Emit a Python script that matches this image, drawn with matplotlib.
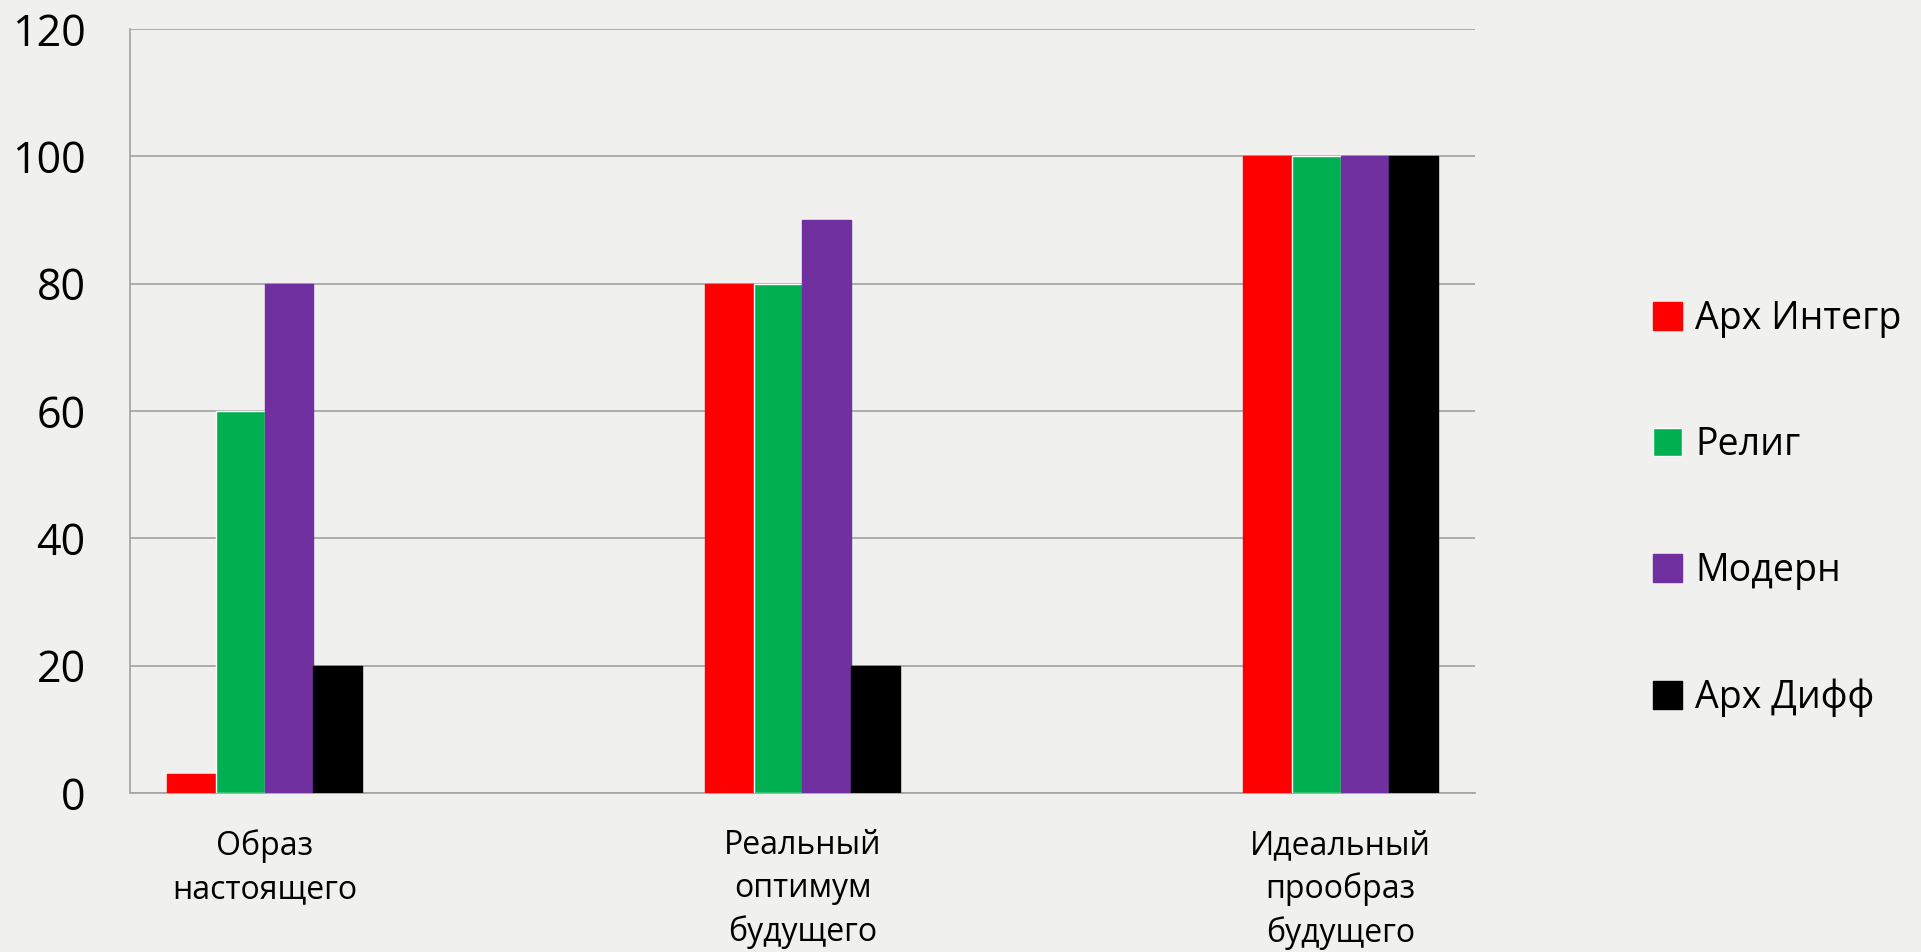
import numpy as np
import matplotlib.pyplot as plt

plt.rcParams['font.family'] = ['Open Sans', 'DejaVu Sans']

# categories and series
categories = ['Образ\nнастоящего', 'Реальный\nоптимум\nбудущего', 'Идеальный\nпрообраз\nбудущего']
series_names = ['Арх Интегр', 'Религ', 'Модерн', 'Арх Дифф']
arh_integr = [3, 80, 100]
relig = [60, 80, 100]
modern = [80, 90, 100]
arh_diff = [20, 20, 100]
colors = ['#FF0000', '#00B050', '#7030A0', '#000000']
yticks = [0, 20, 40, 60, 80, 100, 120]

bg = '#f0f0ee'
fig = plt.figure(figsize=(19.21, 9.52), dpi=100, facecolor=bg)
ax = fig.add_axes([130 / 1921, (952 - 793) / 952, 1345 / 1921, 764 / 952])
ax.set_facecolor(bg)

x = np.arange(len(categories))
w = 0.0906
values = [arh_integr, relig, modern, arh_diff]
for i, (vals, name, c) in enumerate(zip(values, series_names, colors)):
    ec = 'white' if c == '#00B050' else c
    ax.bar(x + (i - 1.5) * w, vals, width=w, color=c, edgecolor=ec,
           linewidth=1, label=name, zorder=3)

ax.set_xlim(-0.25, 2.25)
ax.set_ylim(0, 120)
ax.set_yticks(yticks)
ax.yaxis.grid(True, color='#a6a6a6', linewidth=1.3, zorder=0)
ax.set_xticks(x)
ax.set_xticklabels(categories, fontsize=23, linespacing=1.4, va='top')
ax.tick_params(axis='x', length=0, pad=26)
ax.tick_params(axis='y', length=0, pad=32, labelsize=31)

for s in ['top', 'right']:
    ax.spines[s].set_visible(False)
for s in ['left', 'bottom']:
    ax.spines[s].set_color('#a6a6a6')
    ax.spines[s].set_linewidth(1.3)

leg = fig.legend(loc='center left', bbox_to_anchor=(1619 / 1921, 0.466),
                 frameon=False, fontsize=27, handlelength=0.78, handleheight=0.78,
                 handletextpad=0.35, labelspacing=2.35)

fig.savefig('out.png', dpi=100, facecolor=bg)
